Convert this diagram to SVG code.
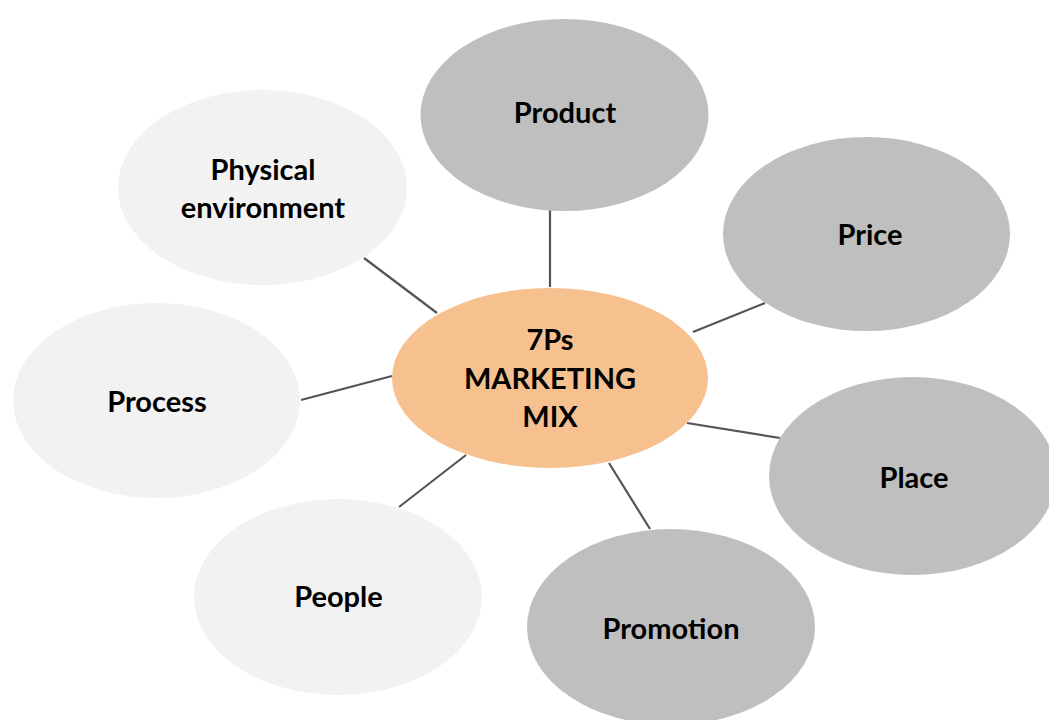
<svg xmlns="http://www.w3.org/2000/svg" width="1049" height="720" viewBox="0 0 1049 720">
  <style>
    .dark { fill: #bfbfbf; }
    .light { fill: #f2f2f2; }
    .core { fill: #f7c08f; }
    .label { font-family: Lato, "Open Sans", "Liberation Sans", sans-serif; font-weight: 700; font-size: 29px; fill: #000; text-anchor: middle; }
    .link { stroke: #555555; stroke-width: 2.2; fill: none; stroke-linecap: butt; }
  </style>
  <rect width="1049" height="720" fill="#ffffff"/>

  <!-- spokes from the hub to each P -->
  <g id="connectors">
    <line class="link" x1="550" y1="210" x2="550" y2="287"/>
    <line class="link" x1="693" y1="332" x2="765" y2="303"/>
    <line class="link" x1="687" y1="423" x2="780" y2="438"/>
    <line class="link" x1="609" y1="463" x2="650" y2="529"/>
    <line class="link" x1="466" y1="455" x2="399" y2="507"/>
    <line class="link" x1="392" y1="376" x2="301" y2="400"/>
    <line class="link" x1="364" y1="258" x2="437" y2="313"/>
  </g>

  <g id="hub">
    <ellipse class="core" cx="550" cy="378" rx="158" ry="90"/>
    <text class="label" x="550" y="350">7Ps</text>
    <text class="label" x="550" y="389">MARKETING</text>
    <text class="label" x="550" y="427">MIX</text>
  </g>

  <g id="product">
    <ellipse class="dark" cx="564.5" cy="115" rx="144" ry="96"/>
    <text class="label" x="565" y="123">Product</text>
  </g>

  <g id="price">
    <ellipse class="dark" cx="866.5" cy="234" rx="143.5" ry="97"/>
    <text class="label" x="870" y="245">Price</text>
  </g>

  <g id="place">
    <ellipse class="dark" cx="912.5" cy="476" rx="143.5" ry="99"/>
    <text class="label" x="914" y="488">Place</text>
  </g>

  <g id="promotion">
    <ellipse class="dark" cx="671" cy="627" rx="144" ry="98"/>
    <text class="label" x="671" y="639">Promotion</text>
  </g>

  <g id="people">
    <ellipse class="light" cx="338" cy="597" rx="144" ry="98"/>
    <text class="label" x="338.5" y="607">People</text>
  </g>

  <g id="process">
    <ellipse class="light" cx="156.5" cy="400.5" rx="143.5" ry="97.5"/>
    <text class="label" x="157" y="412">Process</text>
  </g>

  <g id="physical-environment">
    <ellipse class="light" cx="262.5" cy="187.5" rx="144.5" ry="97.5"/>
    <text class="label" x="263" y="180">Physical</text>
    <text class="label" x="263" y="218">environment</text>
  </g>
</svg>
